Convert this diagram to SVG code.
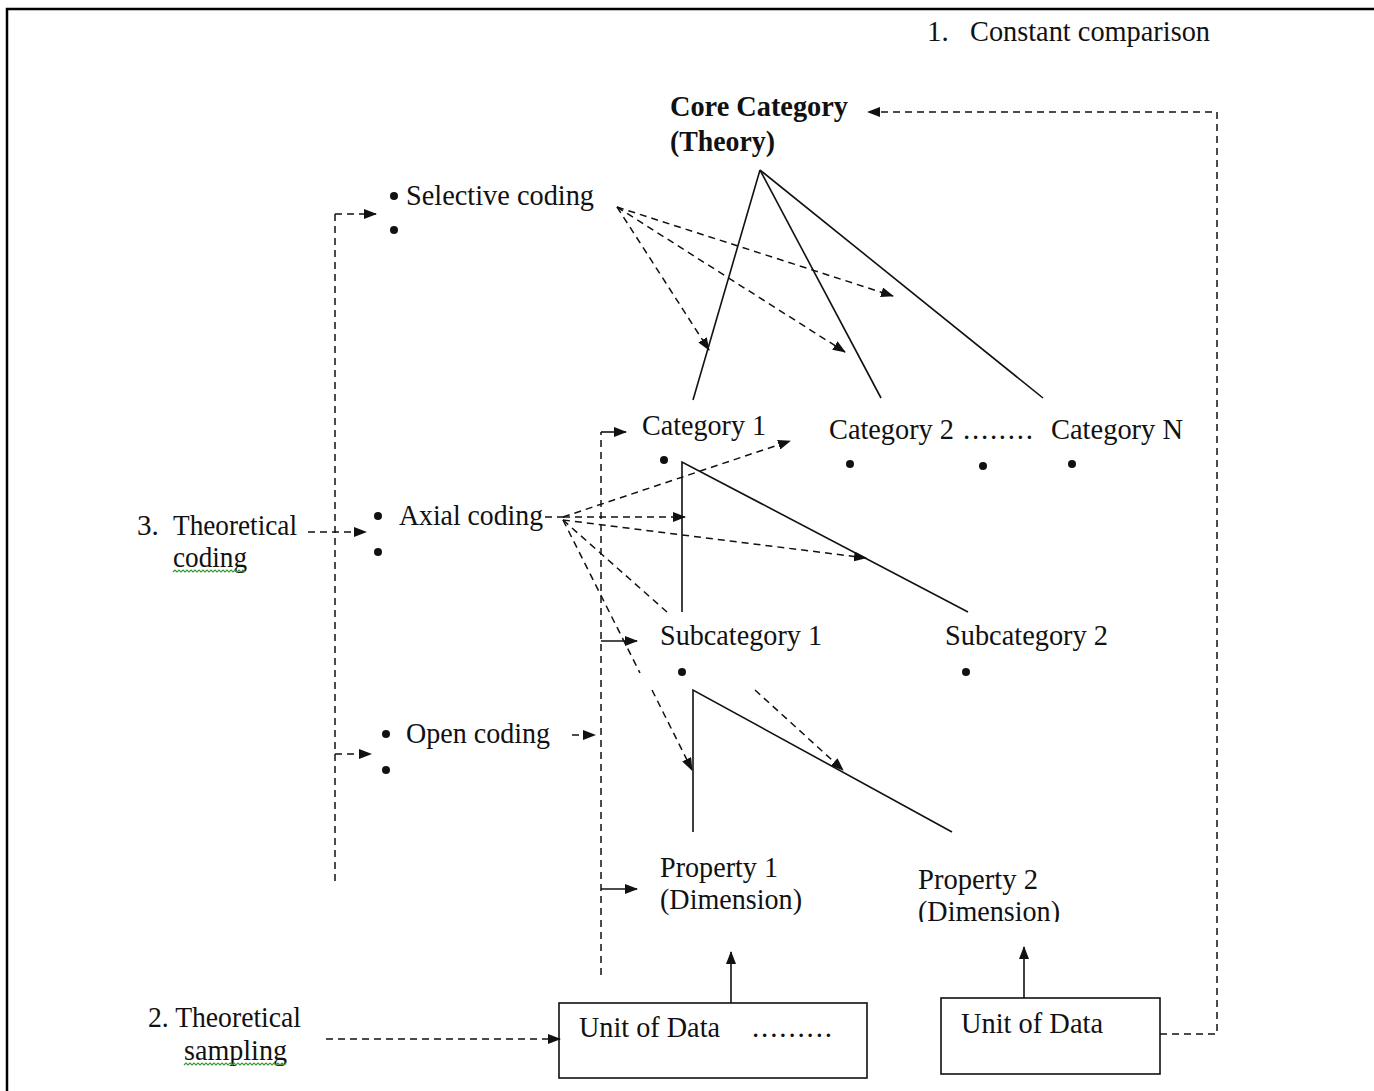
<svg xmlns="http://www.w3.org/2000/svg" width="1374" height="1091" viewBox="0 0 1374 1091">
<style>
text{font-family:"Liberation Serif","Times New Roman",serif;font-size:29px;fill:#111}
.b{font-weight:bold}
.s{stroke:#111;stroke-width:1.6;fill:none}
.d{stroke:#111;stroke-width:1.5;fill:none;stroke-dasharray:7 5}
.dot{fill:#111}
.w{stroke:#3a9a3a;stroke-width:1.2;fill:none}
</style>
<defs>
<marker id="ah" viewBox="0 0 13 10" refX="12" refY="5" markerWidth="13" markerHeight="10" markerUnits="userSpaceOnUse" orient="auto">
<path d="M0,0 L13,5 L0,10 Z" fill="#111"/>
</marker>
<clipPath id="clipP2"><rect x="900" y="860" width="200" height="62"/></clipPath>
</defs>
<rect width="1374" height="1091" fill="#fff"/>
<path d="M7,1091 V9 H1374" stroke="#000" stroke-width="2.5" fill="none"/>

<g id="connectors">
<line class="s" x1="760" y1="170" x2="693" y2="400"/>
<line class="s" x1="760" y1="170" x2="881" y2="398"/>
<line class="s" x1="760" y1="170" x2="1043" y2="398"/>
<path class="s" d="M682,612 V462 L968,612"/>
<path class="s" d="M693,832 V690 L952,832"/>
<line class="d" x1="617" y1="207" x2="709" y2="350" marker-end="url(#ah)"/>
<line class="d" x1="617" y1="207" x2="845" y2="352" marker-end="url(#ah)"/>
<line class="d" x1="617" y1="207" x2="893" y2="296" marker-end="url(#ah)"/>
<line class="d" x1="545" y1="517" x2="563" y2="517"/>
<line class="d" x1="563" y1="517" x2="790" y2="441" marker-end="url(#ah)"/>
<line class="d" x1="563" y1="517" x2="685" y2="517" marker-end="url(#ah)"/>
<line class="d" x1="563" y1="520" x2="866" y2="558" marker-end="url(#ah)"/>
<line class="d" x1="563" y1="520" x2="667" y2="612"/>
<line class="d" x1="563" y1="520" x2="640" y2="673"/>
<line class="d" x1="652" y1="690" x2="692" y2="770" marker-end="url(#ah)"/>
<line class="d" x1="755" y1="690" x2="843" y2="770" marker-end="url(#ah)"/>
<line class="d" x1="335" y1="214" x2="335" y2="884"/>
<line class="d" x1="335" y1="214" x2="376" y2="214" marker-end="url(#ah)"/>
<line class="d" x1="308" y1="532" x2="366" y2="532" marker-end="url(#ah)"/>
<line class="d" x1="335" y1="754" x2="371" y2="754" marker-end="url(#ah)"/>
<line class="d" x1="572" y1="735" x2="595" y2="735" marker-end="url(#ah)"/>
<line class="d" x1="601" y1="975" x2="601" y2="432"/>
<line class="s" x1="601" y1="432" x2="626" y2="432" marker-end="url(#ah)"/>
<line class="s" x1="601" y1="641" x2="637" y2="641" marker-end="url(#ah)"/>
<line class="s" x1="601" y1="889" x2="637" y2="889" marker-end="url(#ah)"/>
<line class="s" x1="731" y1="1003" x2="731" y2="952" marker-end="url(#ah)"/>
<line class="s" x1="1024" y1="998" x2="1024" y2="947" marker-end="url(#ah)"/>
<path class="d" d="M1160,1034 H1217 V112 H868" marker-end="url(#ah)"/>
<line class="d" x1="326" y1="1039" x2="560" y2="1039" marker-end="url(#ah)"/>
</g>

<g id="constant-comparison">
<text x="927" y="41">1.</text>
<text x="970" y="41" textLength="240" lengthAdjust="spacingAndGlyphs">Constant comparison</text>
</g>

<g id="core-category">
<text class="b" x="670" y="116" textLength="178" lengthAdjust="spacingAndGlyphs">Core Category</text>
<text class="b" x="670" y="151" textLength="105" lengthAdjust="spacingAndGlyphs">(Theory)</text>
</g>

<g id="selective-coding">
<circle class="dot" cx="394" cy="196" r="4"/>
<circle class="dot" cx="394" cy="230" r="4"/>
<text x="406" y="205" textLength="188" lengthAdjust="spacingAndGlyphs">Selective coding</text>
</g>

<g id="axial-coding">
<circle class="dot" cx="378" cy="516" r="4"/>
<circle class="dot" cx="378" cy="552" r="4"/>
<text x="399" y="525" textLength="144" lengthAdjust="spacingAndGlyphs">Axial coding</text>
</g>

<g id="open-coding">
<circle class="dot" cx="386" cy="734" r="4"/>
<circle class="dot" cx="386" cy="770" r="4"/>
<text x="406" y="743" textLength="144" lengthAdjust="spacingAndGlyphs">Open coding</text>
</g>

<g id="theoretical-coding">
<text x="137" y="535">3.</text>
<text x="173" y="535" textLength="124" lengthAdjust="spacingAndGlyphs">Theoretical</text>
<text x="173" y="567" textLength="74" lengthAdjust="spacingAndGlyphs">coding</text>
<path class="w" d="M173,572 l2,-2 l2,2 l2,-2 l2,2 l2,-2 l2,2 l2,-2 l2,2 l2,-2 l2,2 l2,-2 l2,2 l2,-2 l2,2 l2,-2 l2,2 l2,-2 l2,2 l2,-2 l2,2 l2,-2 l2,2 l2,-2 l2,2 l2,-2 l2,2 l2,-2 l2,2 l2,-2 l2,2 l2,-2 l2,2 l2,-2 l2,2 l2,-2 l2,2"/>
</g>

<g id="category-1">
<text x="642" y="435" textLength="124" lengthAdjust="spacingAndGlyphs">Category 1</text>
<circle class="dot" cx="664" cy="460" r="4"/>
</g>

<g id="category-2">
<text x="829" y="439" textLength="125" lengthAdjust="spacingAndGlyphs">Category 2</text>
<text x="963" y="439" textLength="70" lengthAdjust="spacing">........</text>
<circle class="dot" cx="850" cy="464" r="4"/>
<circle class="dot" cx="983" cy="466" r="4"/>
</g>

<g id="category-n">
<text x="1051" y="439" textLength="132" lengthAdjust="spacingAndGlyphs">Category N</text>
<circle class="dot" cx="1072" cy="464" r="4"/>
</g>

<g id="subcategory-1">
<text x="660" y="645" textLength="162" lengthAdjust="spacingAndGlyphs">Subcategory 1</text>
<circle class="dot" cx="682" cy="672" r="4"/>
</g>

<g id="subcategory-2">
<text x="945" y="645" textLength="163" lengthAdjust="spacingAndGlyphs">Subcategory 2</text>
<circle class="dot" cx="966" cy="672" r="4"/>
</g>

<g id="property-1">
<text x="660" y="877" textLength="118" lengthAdjust="spacingAndGlyphs">Property 1</text>
<text x="660" y="909" textLength="142" lengthAdjust="spacingAndGlyphs">(Dimension)</text>
</g>

<g id="property-2" clip-path="url(#clipP2)">
<text x="918" y="889" textLength="120" lengthAdjust="spacingAndGlyphs">Property 2</text>
<text x="918" y="921" textLength="142" lengthAdjust="spacingAndGlyphs">(Dimension)</text>
</g>

<g id="unit-of-data-1">
<rect class="s" x="559" y="1003" width="308" height="75" stroke-width="2"/>
<text x="579" y="1037" textLength="141" lengthAdjust="spacingAndGlyphs">Unit of Data</text>
<text x="752" y="1037" textLength="80" lengthAdjust="spacing">.........</text>
</g>

<g id="unit-of-data-2">
<rect class="s" x="941" y="998" width="219" height="76" stroke-width="2"/>
<text x="961" y="1033" textLength="142" lengthAdjust="spacingAndGlyphs">Unit of Data</text>
</g>

<g id="theoretical-sampling">
<text x="148" y="1027" textLength="153" lengthAdjust="spacingAndGlyphs">2. Theoretical</text>
<text x="184" y="1060" textLength="103" lengthAdjust="spacingAndGlyphs">sampling</text>
<path class="w" d="M184,1065 l2,-2 l2,2 l2,-2 l2,2 l2,-2 l2,2 l2,-2 l2,2 l2,-2 l2,2 l2,-2 l2,2 l2,-2 l2,2 l2,-2 l2,2 l2,-2 l2,2 l2,-2 l2,2 l2,-2 l2,2 l2,-2 l2,2 l2,-2 l2,2 l2,-2 l2,2 l2,-2 l2,2 l2,-2 l2,2 l2,-2 l2,2 l2,-2 l2,2 l2,-2 l2,2 l2,-2 l2,2 l2,-2 l2,2 l2,-2 l2,2 l2,-2 l2,2 l2,-2 l2,2 l2,-2 l2,2 l2,-2"/>
</g>
</svg>
